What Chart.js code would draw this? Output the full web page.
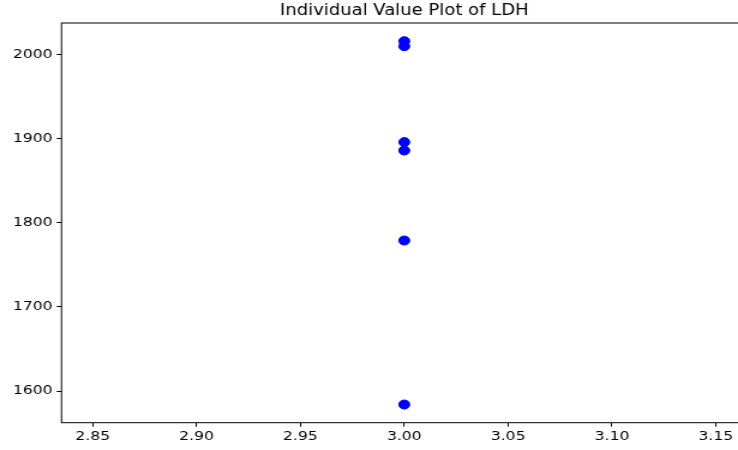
<!DOCTYPE html>
<html>
<head>
<meta charset="utf-8">
<script src="https://cdn.jsdelivr.net/npm/chart.js@4/dist/chart.umd.min.js"></script>
<style>
  html, body { margin: 0; padding: 0; background: #fff; }
  body { width: 738px; height: 450px; overflow: hidden; }
  #wrap { width: 640px; height: 450px; transform: scaleX(1.2); transform-origin: 0 0; }
</style>
</head>
<body>
<div id="wrap"><canvas id="c" width="640" height="450"></canvas></div>
<script>
// Group position and LDH measurements
const groupX = [3, 3, 3, 3, 3, 3];
const ldhValues = [2016, 2010, 1896, 1886, 1779, 1584];

// Tick labels
const xTicks = [2.85, 2.90, 2.95, 3.00, 3.05, 3.10, 3.15];
const yTicks = [1600, 1700, 1800, 1900, 2000];

const chartTitle = 'Individual Value Plot of LDH';

// Axis limits: 5% padding around the data span
const yLo = Math.min(...ldhValues), yHi = Math.max(...ldhValues);
const yPad = (yHi - yLo) * 0.05;
const xLo = 2.85, xHi = 3.15, xPad = (xHi - xLo) * 0.05;

const points = groupX.map((x, i) => ({ x: x, y: ldhValues[i] }));

const FONT = "'DejaVu Sans', sans-serif";

// Frame around the plotting area
const framePlugin = {
  id: 'frame',
  afterDraw(chart) {
    const { ctx, chartArea: a } = chart;
    ctx.save();
    ctx.strokeStyle = '#000';
    ctx.lineWidth = 1;
    ctx.strokeRect(a.left, a.top, a.right - a.left, a.bottom - a.top);
    ctx.restore();
  }
};

new Chart(document.getElementById('c'), {
  type: 'scatter',
  data: {
    datasets: [{
      data: points,
      backgroundColor: '#0000ff',
      borderColor: '#0000ff',
      borderWidth: 1,
      pointRadius: 4.5,
      pointHoverRadius: 4.5
    }]
  },
  options: {
    responsive: false,
    animation: false,
    devicePixelRatio: 1,
    layout: { padding: { left: 0, right: 17.5, top: 0, bottom: 0 } },
    plugins: {
      legend: { display: false },
      tooltip: { enabled: false },
      title: {
        display: true,
        text: chartTitle,
        color: '#000',
        fullSize: false,
        font: { family: FONT, size: 15, weight: 'normal' },
        padding: { top: 2.5, bottom: 2.5 }
      }
    },
    scales: {
      x: {
        type: 'linear',
        min: xLo - xPad,
        max: xHi + xPad,
        afterBuildTicks: (s) => { s.ticks = xTicks.map(v => ({ value: v })); },
        afterFit: (s) => { s.height = 27.3; },
        border: { display: false },
        grid: { display: true, drawOnChartArea: false, drawTicks: true, tickLength: 4, color: '#000' },
        ticks: {
          color: '#000',
          padding: 2.5,
          maxRotation: 0,
          autoSkip: false,
          font: { family: FONT, size: 13 },
          callback: (v) => Number(v).toFixed(2)
        }
      },
      y: {
        type: 'linear',
        min: yLo - yPad,
        max: yHi + yPad,
        afterBuildTicks: (s) => { s.ticks = yTicks.map(v => ({ value: v })); },
        afterFit: (s) => { s.width = 51.25; },
        border: { display: false },
        grid: { display: true, drawOnChartArea: false, drawTicks: true, tickLength: 4, color: '#000' },
        ticks: {
          color: '#000',
          padding: 3.5,
          autoSkip: false,
          font: { family: FONT, size: 13 },
          callback: (v) => String(v)
        }
      }
    }
  },
  plugins: [framePlugin]
});
</script>
</body>
</html>
